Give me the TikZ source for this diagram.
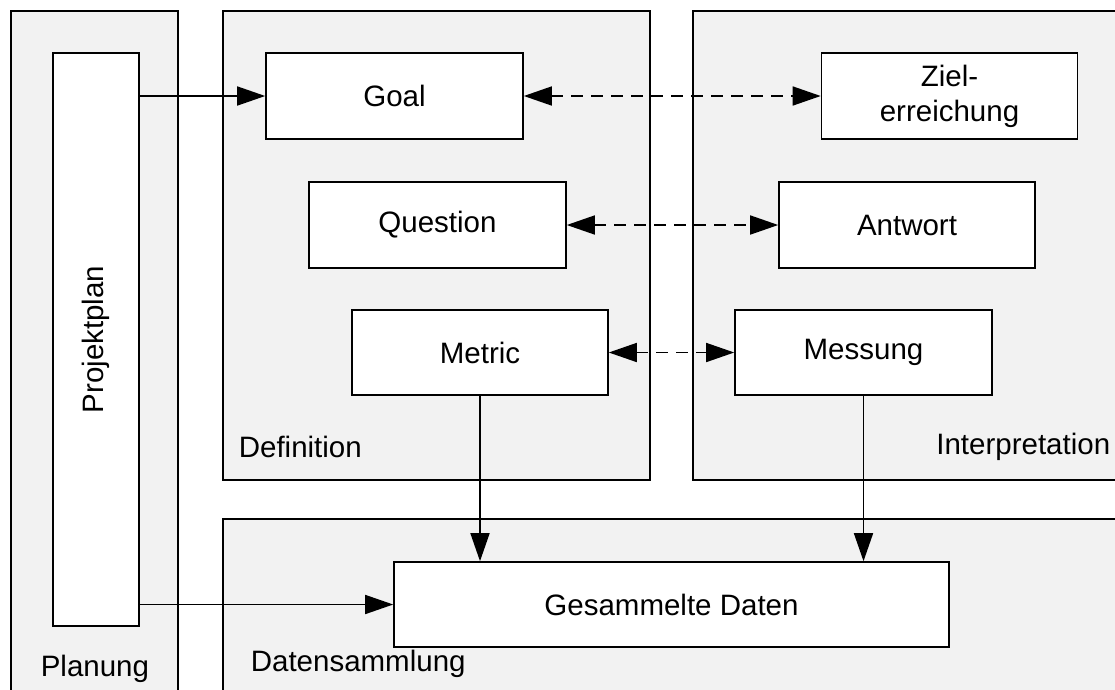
\documentclass[tikz,border=0pt]{standalone}
\usepackage{fontspec}
\setmainfont{Liberation Sans}
\usetikzlibrary{arrows.meta}
\definecolor{panel}{HTML}{F2F2F2}
\begin{document}
\begin{tikzpicture}[x=1pt,y=-1pt,
  line width=1.6pt,
  font=\fontsize{29.5}{35}\selectfont,
  panelbox/.style={draw=black,fill=panel},
  itembox/.style={draw=black,fill=white,inner sep=0pt,minimum height=86pt},
  panellabel/.style={inner sep=0pt},
  flow/.style={-{Triangle[length=28pt,width=19pt]}},
  link/.style={{Triangle[length=28pt,width=19pt]}-{Triangle[length=28pt,width=19pt]},dash pattern=on 12pt off 8pt}
]
\useasboundingbox (0,0) rectangle (1115,689);
\clip (0,0) rectangle (1115,689);

% panels
\draw[panelbox] (11,11) rectangle (178,720);
\draw[panelbox] (223,11) rectangle (650,480);
\draw[panelbox] (693,11) rectangle (1140,480);
\draw[panelbox] (223,519) rectangle (1140,720);

% panel captions
\node[panellabel,anchor=west] (lblplan) at (40,669) {Planung};
\node[panellabel,anchor=west] (lbldef) at (238,447) {Definition};
\node[panellabel,anchor=east] (lblint) at (1111,447) {Interpretation};
\node[panellabel,anchor=west] (lbldata) at (250,664) {Datensammlung};

% boxes
\node[itembox,minimum width=573pt,minimum height=86pt,rotate=90] (plan) at (96,339.5) {Projektplan};
\node[itembox,minimum width=257pt] (goal) at (394.5,96) {Goal};
\node[itembox,minimum width=256pt,align=center] (ziel) at (949.5,96) {Ziel-\\erreichung};
\node[itembox,minimum width=257pt] (question) at (437.5,225) {Question};
\node[itembox,minimum width=256pt] (antwort) at (907,225) {Antwort};
\node[itembox,minimum width=256pt,minimum height=85pt] (metric) at (480,352.5) {Metric};
\node[itembox,minimum width=257pt,minimum height=85pt] (messung) at (863.5,352.5) {Messung};
\node[itembox,minimum width=555pt,minimum height=85pt] (daten) at (671.5,604.5) {Gesammelte Daten};

% connectors
\draw[flow] (plan.south |- goal.west) -- (goal.west);
\draw[flow] (plan.south |- daten.west) -- (daten.west);
\draw[flow] (metric.south) -- (metric.south |- daten.north);
\draw[flow] (messung.south) -- (messung.south |- daten.north);
\draw[link] (goal.east) -- (ziel.west);
\draw[link] (question.east) -- (antwort.west);
\draw[link] (metric.east) -- (messung.west);
\end{tikzpicture}
\end{document}
